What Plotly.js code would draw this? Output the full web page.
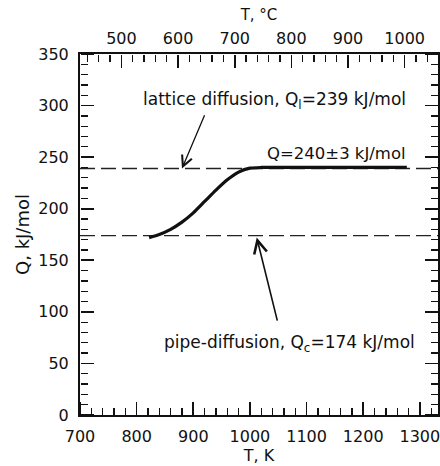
<!DOCTYPE html>
<html>
<head>
<meta charset="utf-8">
<script src="https://cdn.plot.ly/plotly-3.0.1.min.js"></script>
<style>html,body{margin:0;padding:0;background:#fff;}#chart{width:440px;height:466px;}</style>
</head>
<body>
<div id="chart"></div>
<script>
// Measured activation energy curve Q(T)
const tempK = [822, 840, 860, 880, 900, 920, 940, 960, 980, 1000, 1020, 1100, 1200, 1277];
const qKJ   = [172, 175, 180, 187, 196, 207, 218, 228, 235.5, 239.3, 240, 240, 240, 240];
// Reference levels
const latticeQ = 239;
const pipeQ = 174;
const xRangeK = [700, 1332];
const yRange = [0, 350];
const xTicksK = [700, 800, 900, 1000, 1100, 1200, 1300];
const yTicks = [0, 50, 100, 150, 200, 250, 300, 350];
const xTicksC = [500, 600, 700, 800, 900, 1000];
const K0 = 273.15;
const xRangeC = xRangeK.map(v => v - K0);

const FONT = "DejaVu Sans, Liberation Sans, Arial, sans-serif";
const INK = "#111111";

const dashLine = {dash: "15px,6px", width: 1.3, color: "#222222"};
const noData = {x: [null], y: [null], mode: "lines", hoverinfo: "skip", showlegend: false};
const traces = [
  {x: xRangeK, y: [latticeQ, latticeQ], mode: "lines", line: dashLine, hoverinfo: "skip", showlegend: false},
  {x: xRangeK, y: [pipeQ, pipeQ], mode: "lines", line: dashLine, hoverinfo: "skip", showlegend: false},
  {x: tempK, y: qKJ, mode: "lines", line: {color: INK, width: 3.2, shape: "spline", smoothing: 0.6}, hoverinfo: "skip", showlegend: false},
  // empty traces that register the extra (label / tick) axes
  Object.assign({}, noData, {xaxis: "x2", yaxis: "y"}),
  Object.assign({}, noData, {xaxis: "x3", yaxis: "y"}),
  Object.assign({}, noData, {xaxis: "x4", yaxis: "y"}),
  Object.assign({}, noData, {xaxis: "x", yaxis: "y2"}),
  Object.assign({}, noData, {xaxis: "x", yaxis: "y3"})
];

function linTicks(arr) {
  return {tickmode: "linear", tick0: arr[0], dtick: arr[1] - arr[0]};
}
const tickFont = {family: FONT, size: 16, color: INK};
const titleFont = {family: FONT, size: 16, color: INK};

// label axes: lines + labels, no ticks
const labelAxis = {
  showgrid: false, zeroline: false, showline: true, linecolor: INK, linewidth: 2,
  ticks: "", tickfont: tickFont, ticklabeloverflow: "allow"
};
// tick axes: pointing into the plot (drawn as outside ticks of an axis on the opposite side)
function tickAxis(range, majorArr, minorStep, extra) {
  return Object.assign({
    range: range, showgrid: false, zeroline: false, showline: false, showticklabels: false,
    ticks: "outside", ticklen: 13, tickwidth: 1.6, tickcolor: INK,
    minor: {dtick: minorStep, ticks: "outside", ticklen: 7, tickwidth: 1.3, tickcolor: INK, showgrid: false}
  }, linTicks(majorArr), extra);
}

const layout = {
  width: 440, height: 466,
  margin: {l: 80, r: 2, t: 54, b: 51},
  paper_bgcolor: "#ffffff", plot_bgcolor: "#ffffff",
  font: {family: FONT, color: INK},
  showlegend: false,
  xaxis: Object.assign({}, labelAxis, linTicks(xTicksK), {
    range: xRangeK, ticklabelstandoff: 6,
    title: {text: "T, K", font: titleFont, standoff: 4}
  }),
  xaxis2: Object.assign({}, labelAxis, linTicks(xTicksC), {
    overlaying: "x", side: "top", anchor: "y", range: xRangeC, ticklabelstandoff: 2,
    title: {text: "T, °C", font: {family: FONT, size: 15, color: INK}, standoff: 4}
  }),
  xaxis3: tickAxis(xRangeK, xTicksK, 20, {overlaying: "x", side: "top", anchor: "free", position: 0}),
  xaxis4: tickAxis(xRangeC, xTicksC, 20, {overlaying: "x", side: "bottom", anchor: "free", position: 1}),
  yaxis: Object.assign({}, labelAxis, linTicks(yTicks), {
    range: yRange, mirror: true, ticklabelstandoff: 6,
    title: {text: "Q, kJ/mol", font: {family: FONT, size: 18, color: INK}, standoff: 4}
  }),
  yaxis2: tickAxis(yRange, yTicks, 10, {overlaying: "y", side: "right", anchor: "free", position: 0}),
  yaxis3: tickAxis(yRange, yTicks, 10, {overlaying: "y", side: "left", anchor: "free", position: 1}),
  annotations: [
    {x: 1044, y: 305, xref: "x", yref: "y", text: "lattice diffusion, Q<sub>l</sub>=239 kJ/mol", showarrow: false,
     font: {family: FONT, size: 17, color: INK}},
    {x: 1152, y: 254, xref: "x", yref: "y", text: "Q=240±3 kJ/mol", showarrow: false,
     font: {family: FONT, size: 16.5, color: INK}},
    {x: 1070, y: 69, xref: "x", yref: "y", text: "pipe-diffusion, Q<sub>c</sub>=174 kJ/mol", showarrow: false,
     font: {family: FONT, size: 17, color: INK}},
    {x: 880, y: latticeQ, ax: 921, ay: 292, xref: "x", yref: "y", axref: "x", ayref: "y", text: "",
     showarrow: true, arrowhead: 5, arrowsize: 1.6, arrowwidth: 1.3, arrowcolor: INK},
    {x: 1012, y: 172, ax: 1049, ay: 90, xref: "x", yref: "y", axref: "x", ayref: "y", text: "",
     showarrow: true, arrowhead: 5, arrowsize: 1.6, arrowwidth: 1.6, arrowcolor: INK}
  ]
};

Plotly.newPlot("chart", traces, layout, {staticPlot: true, displayModeBar: false});
</script>
</body>
</html>
